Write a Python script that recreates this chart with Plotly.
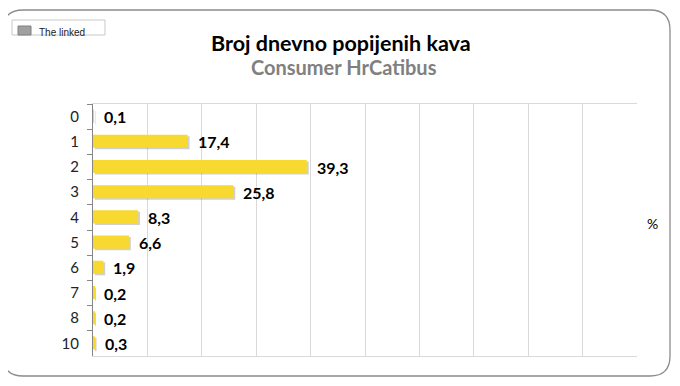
import plotly.graph_objects as go

categories = ["0", "1", "2", "3", "4", "5", "6", "7", "8", "10"]
values = [0.1, 17.4, 39.3, 25.8, 8.3, 6.6, 1.9, 0.2, 0.2, 0.3]
title_text = "Broj dnevno popijenih kava"
subtitle_text = "Consumer HrCatibus"
unit_label = "%"

W, H = 680, 386
OFF = 8  # page body margin
PL, PT, PR, PB = 93, 104, 637, 356  # plot box in page pixels
L, T = PL - OFF, PT - OFF
pw, ph = PR - PL, PB - PT
R, B = W - L - pw, H - T - ph

def px(x):
    return (x - PL) / pw

def py(y):
    return (PB - y) / ph

FONT = "Lato, 'Open Sans', sans-serif"
YELLOW = "#F7D92F"

fig = go.Figure()
# shadow
fig.add_trace(go.Bar(
    y=categories, x=values, orientation="h", base=0.35,
    width=0.52, offset=-0.22,
    marker=dict(color="rgba(120,120,120,0.35)", line=dict(width=0)),
    hoverinfo="skip", showlegend=False,
))
fig.add_trace(go.Bar(
    y=categories, x=values, orientation="h",
    width=0.52, offset=-0.28,
    marker=dict(color=YELLOW, line=dict(width=0)),
    showlegend=False,
))

for i, v in enumerate(values):
    fig.add_annotation(
        x=v, y=i, xref="x", yref="y", text=f"<b>{v:.1f}</b>".replace(".", ","),
        showarrow=False, xanchor="left", yanchor="middle", xshift=8, yshift=0,
        font=dict(family=FONT, size=16, color="#000000"),
    )

# border rounded rect
x0, x1, y0, y1 = 3, 670, 10, 376
r = 20
rx, ry = r / pw, r / ph
X0, X1, Y0, Y1 = px(x0), px(x1), py(y1), py(y0)
path = (f"M {X0+rx},{Y1} L {X1-rx},{Y1} Q {X1},{Y1} {X1},{Y1-ry} "
        f"L {X1},{Y0+ry} Q {X1},{Y0} {X1-rx},{Y0} L {X0+rx},{Y0} "
        f"Q {X0},{Y0} {X0},{Y0+ry} L {X0},{Y1-ry} Q {X0},{Y1} {X0+rx},{Y1} Z")
fig.add_shape(type="path", path=path, xref="paper", yref="paper",
              line=dict(color="#8C8C8C", width=1.3), layer="below")

# broken linked image placeholder
fig.add_shape(type="rect", xref="paper", yref="paper",
              x0=px(12), x1=px(105), y0=py(35), y1=py(20),
              line=dict(color="#C8C8C8", width=1), fillcolor="white")
fig.add_shape(type="rect", xref="paper", yref="paper",
              x0=px(18), x1=px(31), y0=py(35), y1=py(26),
              line=dict(color="#808080", width=1), fillcolor="#A0A0A0")
fig.add_annotation(x=px(37), y=py(33), xref="paper", yref="paper",
                   text="The linked", showarrow=False, xanchor="left",
                   yanchor="middle",
                   font=dict(family="Arial", size=10, color="#222"))

fig.add_annotation(y=py(43), xref="paper", yref="paper", x=px(341),
                   text=f"<b>{title_text}</b>", showarrow=False,
                   xanchor="center", yanchor="middle",
                   font=dict(family=FONT, size=21.5, color="#000000"))
fig.add_annotation(y=py(67), xref="paper", yref="paper", x=px(344),
                   text=f"<b>{subtitle_text}</b>", showarrow=False,
                   xanchor="center", yanchor="middle",
                   font=dict(family=FONT, size=20, color="#808080"))
fig.add_annotation(x=px(652), y=py(223), xref="paper", yref="paper",
                   text=unit_label, showarrow=False,
                   xanchor="center", yanchor="middle",
                   font=dict(family=FONT, size=14, color="#000000"))

fig.update_layout(
    width=W, height=H, margin=dict(l=L, r=R, t=T, b=B, autoexpand=False),
    paper_bgcolor="white", plot_bgcolor="white",
    barmode="overlay", separators=",.",
    font=dict(family=FONT, size=14, color="#000"),
    xaxis=dict(range=[0, 100], dtick=10, showticklabels=False,
               showgrid=True, gridcolor="#D9D9D9", gridwidth=1,
               zeroline=False, showline=True, linecolor="#D9D9D9",
               mirror=True, ticks="", automargin=False),
    yaxis=dict(range=[9.5, -0.5], type="category", showgrid=False,
               showline=True, linecolor="#868686", ticks="outside",
               tickson="boundaries", ticklen=5, tickcolor="#868686",
               ticklabelstandoff=10, automargin=False,
               tickfont=dict(family=FONT, size=15, color="#222")),
)
fig.write_html("out.html")
